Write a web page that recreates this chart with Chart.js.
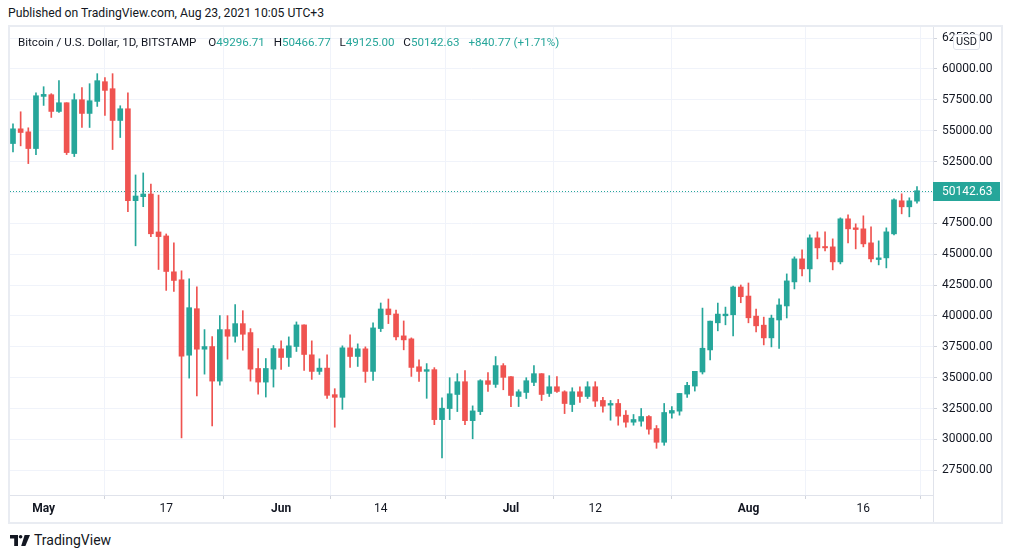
<!DOCTYPE html>
<html>
<head>
<meta charset="utf-8">
<script src="https://cdn.jsdelivr.net/npm/chart.js@4.4.0/dist/chart.umd.min.js"></script>
<style>
  body { margin: 0; background: #fff; font-family: Roboto, "Noto Sans", sans-serif; color: #131722; }
  #page { position: relative; width: 1012px; height: 558px; overflow: hidden; }
  #published { position: absolute; left: 8px; top: 6px; font-size: 12.2px; white-space: nowrap; }
  #frame { position: absolute; left: 8px; top: 25px; width: 995px; height: 499px; box-sizing: border-box; border: 2px solid #e9ecf2; }
  #wrap { position: absolute; left: 10px; top: 27px; width: 991px; height: 495px; }
  #legend { position: absolute; left: 18px; top: 35px; font-size: 11.6px; white-space: nowrap; }
  #legend .v { color: #26a69a; margin-right: 6px; }
  #legend .o { margin-left: 9px; }
  #usd { position: absolute; left: 953px; top: 34px; width: 27px; height: 16px; box-sizing: border-box; border: 1px solid #e0e3eb; border-radius: 3px; background: #fff; font-size: 11px; line-height: 14px; text-align: center; }
  #badge { position: absolute; left: 933px; top: 182px; width: 67px; height: 19px; background: #26a69a; color: #fff; font-size: 12px; line-height: 19px; padding-left: 9px; box-sizing: border-box; }
  #footer { position: absolute; left: 10px; top: 532px; font-size: 14px; display: flex; align-items: center; gap: 4px; }
</style>
</head>
<body>
<div id="page">
  <div id="published">Published on TradingView.com, Aug 23, 2021 10:05 UTC+3</div>
  <div id="frame"></div>
  <div id="wrap"><canvas id="btcChart"></canvas></div>
  <div id="legend">Bitcoin / U.S. Dollar, 1D, BITSTAMP <span class="o">O</span><span class="v">49296.71</span> H<span class="v">50466.77</span> L<span class="v">49125.00</span> C<span class="v">50142.63</span> <span class="v">+840.77 (+1.71%)</span></div>
  <div id="usd">USD</div>
  <div id="badge">50142.63</div>
  <div id="footer">
    <svg width="20" height="11" viewBox="0 0 20 11"><path d="M0 0h8v11H4.2V3.6H0z" fill="#131722"/><circle cx="10.6" cy="1.8" r="1.8" fill="#131722"/><path d="M14.6 0H20l-4.6 11h-4.2z" fill="#131722"/></svg>
    <span>TradingView</span>
  </div>
</div>
<script>
// daily candles, Apr 27 - Aug 23 2021
const startDay = '2021-04-27';

const opens = [
  53963, 55154, 54911, 53557, 57780, 57916, 56562, 57266, 53151, 57510,
  56400, 57374, 58971, 58403, 55831, 56779, 49334, 49659, 49875, 46802,
  46480, 43574, 42929, 36822, 40588, 37307, 37522, 34724, 38894, 38356,
  39378, 38652, 35746, 34644, 35693, 37337, 36638, 37525, 39274, 36853,
  35508, 35777, 33625, 33410, 37418, 36718, 37337, 35508, 38978, 40565,
  40161, 38386, 38144, 35885, 35516, 35652, 31604, 32500, 33641, 34674,
  31522, 32256, 34755, 34457, 35978, 35082, 33478, 33804, 34620, 35326,
  33723, 34266, 33859, 32826, 33859, 33478, 34266, 33157, 32778, 32913,
  31965, 31396, 31477, 31856, 30881, 29770, 32128, 32290, 33672, 34322,
  35461, 37249, 39444, 40014, 40095, 42344, 41612, 39986, 39254, 38225,
  39675, 40810, 42757, 44622, 43811, 46324, 45622, 45595, 44378, 47865,
  47135, 47054, 45919, 44568, 44703, 46649, 49325, 48838, 49296.71
];
const highs = [
  55560, 56535, 55236, 58078, 58565, 58000, 59053, 57266, 57997, 58484,
  58809, 59621, 59296, 59621, 57022, 58078, 51419, 51581, 50688, 49788,
  46641, 45915, 43655, 43009, 42364, 38894, 38329, 40024, 40024, 40911,
  40427, 38975, 37360, 36553, 37603, 37983, 38305, 39516, 39274, 37983,
  36530, 36853, 34109, 37579, 38467, 37740, 37498, 39435, 41049, 41372,
  40484, 39596, 38225, 36449, 36141, 35815, 33370, 35000, 35326, 35571,
  32718, 34837, 35408, 36712, 36141, 35082, 34022, 35000, 35978, 35326,
  35163, 35082, 33940, 34185, 34266, 34674, 34674, 33401, 33157, 33238,
  32344, 32019, 32507, 31938, 31125, 32913, 32669, 33726, 34621, 35515,
  40637, 39580, 41043, 40718, 42425, 42507, 42669, 40556, 39905, 40068,
  41378, 43405, 44784, 45351, 46568, 46811, 46811, 46243, 47946, 48190,
  47460, 48108, 47216, 46081, 47135, 49487, 49892, 49568, 50466.77
];
const lows = [
  53287, 53774, 52339, 53070, 57049, 56075, 56481, 53070, 52907, 55263,
  55263, 56968, 56237, 53476, 54451, 48441, 45680, 48847, 46411, 43763,
  42068, 41987, 30124, 34966, 33514, 35289, 31093, 34401, 36500, 37872,
  37226, 34724, 33675, 33433, 34240, 35669, 35911, 37122, 35588, 34862,
  35266, 33329, 30989, 32441, 35831, 35911, 34620, 34781, 38736, 39381,
  38063, 37256, 35104, 34701, 33329, 31196, 28506, 31604, 32256, 31196,
  30055, 32011, 33886, 34212, 34022, 32663, 32663, 33315, 34348, 33152,
  33478, 33804, 32093, 32256, 32989, 33315, 32663, 32209, 31558, 31152,
  30989, 31152, 31071, 30420, 29282, 29526, 31721, 31965, 33401, 33916,
  35298, 36436, 38794, 39282, 38388, 41070, 39444, 38713, 37656, 37493,
  37369, 39837, 42189, 43243, 42757, 44622, 45270, 43730, 44216, 45919,
  45432, 45595, 44378, 44135, 43892, 46568, 48270, 48027, 49125
];
const closes = [
  55154, 54857, 53557, 57834, 57943, 56562, 57266, 53232, 57510, 56400,
  57428, 59053, 58267, 55831, 56779, 49334, 49713, 49875, 46654, 46426,
  43601, 42875, 36742, 40669, 37307, 37522, 34724, 38894, 38356, 39378,
  38517, 35693, 34644, 35746, 37360, 36638, 37579, 39274, 36880, 35508,
  35777, 33571, 33410, 37418, 36718, 37337, 35508, 39032, 40565, 40108,
  38305, 38063, 35831, 35508, 35652, 31604, 32528, 33696, 34674, 31522,
  32310, 34755, 34457, 35978, 35027, 33560, 33859, 34755, 35326, 33641,
  34266, 33886, 32908, 33859, 33478, 34266, 33103, 32696, 32913, 31883,
  31396, 31613, 31856, 30827, 29770, 32182, 32344, 33726, 34377, 35515,
  37385, 39580, 40149, 40149, 42344, 41558, 39851, 39200, 38225, 39824,
  40891, 42838, 44622, 43811, 46324, 45514, 45514, 44378, 47865, 47054,
  47000, 45838, 44622, 44703, 46811, 49406, 48838, 49325, 50142.63
];

// axis labels
const tickDates = ['2021-05-01', '2021-05-17', '2021-06-01', '2021-06-14', '2021-07-01', '2021-07-12', '2021-08-01', '2021-08-16'];
const tickLabels = ['May', '17', 'Jun', '14', 'Jul', '12', 'Aug', '16'];
const monthLabels = ['May', 'Jun', 'Jul', 'Aug'];
const priceTicks = [27500, 30000, 32500, 35000, 37500, 40000, 42500, 45000, 47500, 50000, 52500, 55000, 57500, 60000, 62500];

const UP = '#26a69a';
const DOWN = '#ef5350';
const FONT = 'Roboto, "Noto Sans", sans-serif';

const dayMs = 86400000;
const t0 = Date.parse(startDay);
const dayIndex = d => Math.round((Date.parse(d) - t0) / dayMs);
const tickIdx = tickDates.map(dayIndex);

const candleColor = ctx => closes[ctx.dataIndex] >= opens[ctx.dataIndex] ? UP : DOWN;

const bodies = opens.map((o, i) => ({ x: i, y: [o, closes[i]] }));
const wicks = lows.map((l, i) => ({ x: i, y: [l, highs[i]] }));

const badge = document.getElementById('badge');

// dotted last-price line + full height divider
const lastPrice = {
  id: 'lastPrice',
  beforeDatasetsDraw(chart) {
    const { ctx, chartArea, scales } = chart;
    const last = closes[closes.length - 1];
    const py = Math.round(scales.y.getPixelForValue(last)) + 0.5;
    ctx.save();
    ctx.strokeStyle = UP;
    ctx.lineWidth = 1;
    ctx.setLineDash([1, 2]);
    ctx.beginPath();
    ctx.moveTo(chartArea.left, py);
    ctx.lineTo(chartArea.right, py);
    ctx.stroke();
    ctx.restore();
    badge.style.top = (27 + py - 10) + 'px';
  },
  afterDraw(chart) {
    const { ctx, chartArea } = chart;
    const x = Math.round(chartArea.right) + 0.5;
    ctx.save();
    ctx.strokeStyle = '#e0e3eb';
    ctx.lineWidth = 1;
    ctx.beginPath();
    ctx.moveTo(x, 0);
    ctx.lineTo(x, chart.height);
    ctx.stroke();
    ctx.restore();
  }
};

const isMonthTick = ctx => {
  if (!ctx.tick) return false;
  return monthLabels.includes(tickLabels[tickIdx.indexOf(ctx.tick.value)]);
};

// keep the plot flush with the frame, no extra room for edge labels
const noEdgePadding = scale => {
  scale.paddingTop = 0;
  scale.paddingBottom = 0;
  scale.paddingLeft = 0;
  scale.paddingRight = 0;
};

new Chart(document.getElementById('btcChart'), {
  type: 'bar',
  data: {
    datasets: [
      {
        label: 'body',
        data: bodies,
        backgroundColor: candleColor,
        barThickness: 5,
        minBarLength: 1,
        grouped: false
      },
      {
        label: 'wick',
        data: wicks,
        backgroundColor: candleColor,
        barThickness: 1,
        grouped: false
      }
    ]
  },
  options: {
    responsive: true,
    maintainAspectRatio: false,
    animation: false,
    layout: { padding: 0 },
    plugins: { legend: { display: false }, tooltip: { enabled: false } },
    scales: {
      x: {
        type: 'linear',
        min: -0.39,
        max: 120.09,
        offset: false,
        afterBuildTicks: scale => { scale.ticks = tickIdx.map(v => ({ value: v })); },
        afterFit: scale => { scale.height = 27; noEdgePadding(scale); },
        grid: { color: '#f0f3fa', tickColor: '#d1d4dc', tickLength: 4 },
        border: { color: '#e0e3eb' },
        ticks: {
          padding: 3,
          color: '#131722',
          maxRotation: 0,
          autoSkip: false,
          callback: v => tickLabels[tickIdx.indexOf(v)],
          font: ctx => ({ family: FONT, size: 12, weight: isMonthTick(ctx) ? 'bold' : 'normal' })
        }
      },
      y: {
        position: 'right',
        min: 25500,
        max: 63400,
        afterBuildTicks: scale => { scale.ticks = priceTicks.map(v => ({ value: v })); },
        afterFit: scale => { scale.width = 68; noEdgePadding(scale); },
        grid: { color: '#f0f3fa', tickColor: '#d1d4dc', tickLength: 4 },
        border: { color: '#e0e3eb' },
        ticks: {
          padding: 5,
          color: '#131722',
          font: { family: FONT, size: 12 },
          callback: v => v.toFixed(2)
        }
      }
    }
  },
  plugins: [lastPrice]
});
</script>
</body>
</html>
